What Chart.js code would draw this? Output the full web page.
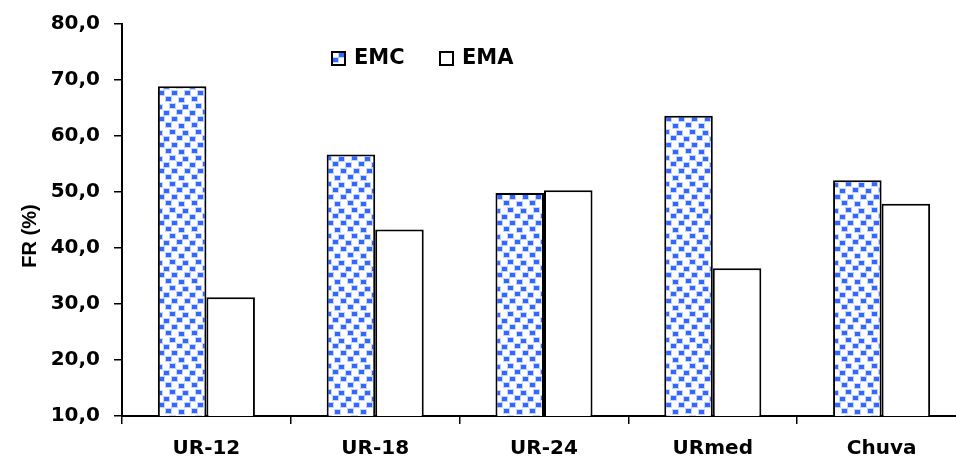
<!DOCTYPE html>
<html>
<head>
<meta charset="utf-8">
<script src="https://cdn.jsdelivr.net/npm/chart.js@4.4.1/dist/chart.umd.min.js"></script>
<style>
  html, body { margin: 0; padding: 0; background: #fff; overflow: hidden; }
  #wrap { width: 956px; height: 456px; overflow: hidden; position: relative; }
  canvas { display: block; }
</style>
</head>
<body>
<div id="wrap"><canvas id="c" width="980" height="456"></canvas></div>
<script>
// Data
const categories = ['UR-12', 'UR-18', 'UR-24', 'URmed', 'Chuva'];
const emcValues = [68.9, 56.7, 49.8, 63.6, 52.1];
const emaValues = [31.2, 43.3, 50.3, 36.4, 47.9];
const seriesNames = ['EMC', 'EMA'];
const yMin = 10, yMax = 80, yStep = 10;
const yTitle = 'FR (%)';

const FONT = '"DejaVu Sans", "Liberation Sans", Arial, sans-serif';

// Blue dotted fill used by the EMC bars
function makeDotPattern() {
  const T = 26;
  const tile = document.createElement('canvas');
  tile.width = T; tile.height = T;
  const g = tile.getContext('2d');
  g.fillStyle = '#ffffff';
  g.fillRect(0, 0, T, T);
  const spots = [
    [1, 1], [14, 0], [8, 7], [21, 6], [3, 13], [16, 13], [10, 19], [23, 20]
  ];
  const draw = (x, y) => {
    g.fillStyle = 'rgba(140,170,255,0.5)';
    g.fillRect(x - 1, y - 1, 7, 6);
    g.fillStyle = '#3268ff';
    g.fillRect(x, y, 5, 4);
  };
  for (const [x, y] of spots) {
    for (const dx of [-T, 0, T]) for (const dy of [-T, 0, T]) draw(x + dx, y + dy);
  }
  return g.createPattern(tile, 'repeat');
}

const ctx = document.getElementById('c').getContext('2d');
const dots = makeDotPattern();

// Legend drawn inside the plot area, near the top
const innerLegend = {
  id: 'innerLegend',
  afterDraw(chart) {
    const c = chart.ctx;
    const a = chart.chartArea;
    const items = chart.data.datasets.map(d => ({ label: d.label, fill: d.backgroundColor }));
    const xs = [a.left + 210, a.left + 318];
    const boxY = 52;
    c.save();
    c.font = 'bold 21px ' + FONT;
    c.textBaseline = 'middle';
    c.textAlign = 'left';
    items.forEach((it, i) => {
      c.fillStyle = it.fill;
      c.fillRect(xs[i], boxY, 13, 13);
      c.lineWidth = 2;
      c.strokeStyle = '#000';
      c.strokeRect(xs[i], boxY, 13, 13);
      c.fillStyle = '#000';
      c.fillText(it.label, xs[i] + 22, boxY + 7);
    });
    c.restore();
  }
};

// Rotated y-axis title
const yAxisTitle = {
  id: 'yAxisTitle',
  afterDraw(chart) {
    const c = chart.ctx;
    c.save();
    c.font = 'bold 20px "Liberation Sans", Arial, sans-serif';
    c.fillStyle = '#000';
    c.textAlign = 'center';
    c.textBaseline = 'middle';
    c.translate(30, 236);
    c.rotate(-Math.PI / 2);
    c.fillText(yTitle, 0, 0);
    c.restore();
  }
};

new Chart(ctx, {
  type: 'bar',
  data: {
    labels: categories,
    datasets: [
      {
        label: seriesNames[0],
        data: emcValues,
        backgroundColor: dots,
        borderColor: '#000',
        borderWidth: 2,
        categoryPercentage: 0.575,
        barPercentage: 1.0
      },
      {
        label: seriesNames[1],
        data: emaValues,
        backgroundColor: '#ffffff',
        borderColor: '#000',
        borderWidth: 2,
        categoryPercentage: 0.575,
        barPercentage: 1.0
      }
    ]
  },
  options: {
    responsive: false,
    animation: false,
    devicePixelRatio: 1,
    layout: { padding: { left: 0, right: 14, top: 23, bottom: 0 } },
    plugins: {
      legend: { display: false },
      tooltip: { enabled: false }
    },
    scales: {
      x: {
        grid: {
          display: true,
          drawOnChartArea: false,
          drawTicks: true,
          tickLength: 8,
          color: '#000',
          lineWidth: 1.5,
          offset: true
        },
        border: { display: true, color: '#000', width: 2 },
        ticks: {
          color: '#000',
          font: { family: FONT, size: 20, weight: 'bold' },
          padding: 13,
          maxRotation: 0
        },
        afterFit(scale) { scale.height = 40; }
      },
      y: {
        min: yMin,
        max: yMax,
        grid: {
          display: true,
          drawOnChartArea: false,
          drawTicks: true,
          tickLength: 8,
          color: '#000',
          lineWidth: 1.5
        },
        border: { display: true, color: '#000', width: 2 },
        ticks: {
          stepSize: yStep,
          color: '#000',
          font: { family: FONT, size: 20, weight: 'bold', lineHeight: 1.0 },
          padding: 14,
          callback: v => Number(v).toFixed(1).replace('.', ',')
        },
        afterFit(scale) { scale.width = 122; }
      }
    }
  },
  plugins: [innerLegend, yAxisTitle]
});
</script>
</body>
</html>
